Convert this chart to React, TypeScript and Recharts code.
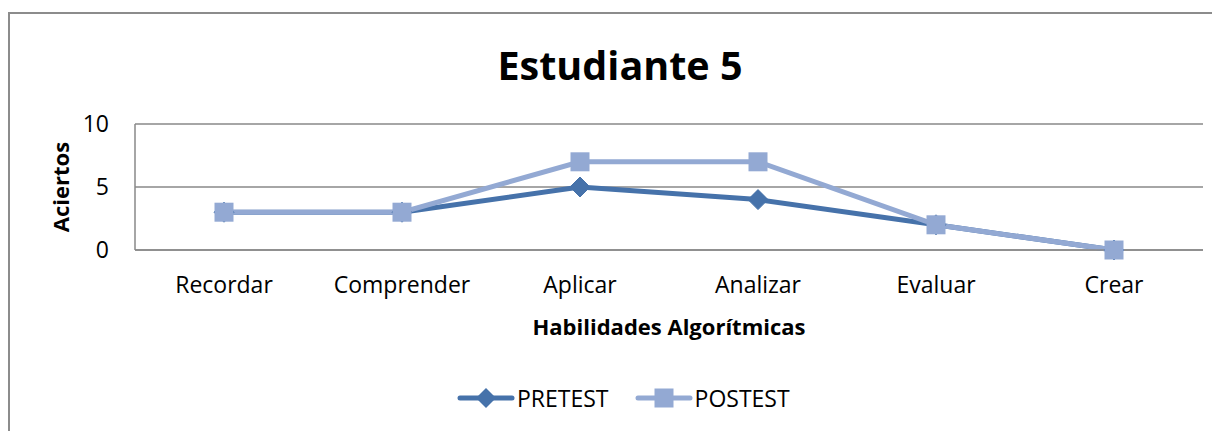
import React from "react";
import { LineChart, Line, XAxis, YAxis, CartesianGrid, Legend } from "recharts";

const categories = ["Recordar", "Comprender", "Aplicar", "Analizar", "Evaluar", "Crear"];
const pretest = [3, 3, 5, 4, 2, 0];
const postest = [3, 3, 7, 7, 2, 0];
const yTicks = [0, 5, 10];

const data = categories.map((c, i) => ({ name: c, PRETEST: pretest[i], POSTEST: postest[i] }));

const PRE_COLOR = "#4672AA";
const POST_COLOR = "#93A9D3";
const FONT = "'Open Sans', 'DejaVu Sans', sans-serif";

const Diamond = (props: any) => {
  const { cx, cy } = props;
  if (cx == null || cy == null) return null;
  const r = 10;
  return (
    <path
      key={`d-${cx}`}
      d={`M${cx},${cy - r}L${cx + r},${cy}L${cx},${cy + r}L${cx - r},${cy}Z`}
      fill={PRE_COLOR}
      stroke={PRE_COLOR}
      strokeWidth={1}
    />
  );
};

const Square = (props: any) => {
  const { cx, cy } = props;
  if (cx == null || cy == null) return null;
  const s = 19;
  return (
    <rect key={`s-${cx}`} x={cx - s / 2} y={cy - s / 2} width={s} height={s} fill={POST_COLOR} />
  );
};

const LegendContent = () => {
  const item = (label: string, color: string, marker: "d" | "s") => (
    <div style={{ display: "flex", alignItems: "center" }}>
      <svg width={58} height={30} style={{ display: "block" }}>
        <line x1={3} y1={15} x2={55} y2={15} stroke={color} strokeWidth={5} strokeLinecap="round" />
        {marker === "d" ? (
          <path d="M29,5L39,15L29,25L19,15Z" fill={color} />
        ) : (
          <rect x={19.5} y={5.5} width={19} height={19} fill={color} />
        )}
      </svg>
      <span style={{ fontSize: 23, color: "#000", marginLeft: 2, lineHeight: "30px" }}>{label}</span>
    </div>
  );
  return (
    <div style={{ display: "flex", height: 30, marginLeft: 447, fontFamily: FONT }}>
      {item("PRETEST", PRE_COLOR, "d")}
      <div style={{ width: 26 }} />
      {item("POSTEST", POST_COLOR, "s")}
    </div>
  );
};

export default function App() {
  return (
    <div
      style={{
        position: "relative",
        width: 1202,
        height: 417,
        marginTop: 4,
        borderTop: "2px solid #8c8c8c",
        borderLeft: "2px solid #8c8c8c",
        fontFamily: FONT,
        background: "#fff",
      }}
    >
      <div
        style={{
          position: "absolute",
          left: 610,
          top: 52,
          transform: "translate(-50%, -50%)",
          fontSize: 39.5,
          fontWeight: 700,
          lineHeight: 1,
          whiteSpace: "nowrap",
          color: "#000",
        }}
      >
        Estudiante 5
      </div>
      <LineChart
        width={1202}
        height={417}
        data={data}
        margin={{ top: 110, right: 9, bottom: 18, left: 0 }}
      >
        <CartesianGrid vertical={false} stroke="#888" strokeWidth={1.5} />
        <XAxis
          dataKey="name"
          height={133}
          padding={{ left: 89, right: 89 }}
          tickLine={false}
          tickSize={0}
          tickMargin={27}
          axisLine={{ stroke: "#888", strokeWidth: 1.5 }}
          tick={{ fontSize: 23, fill: "#000" }}
          interval={0}
          label={{
            content: (p: any) => {
              const vb = p.viewBox || {};
              return (
                <text
                  x={vb.x + vb.width / 2}
                  y={vb.y + 76}
                  textAnchor="middle"
                  dominantBaseline="central"
                  fontSize={22}
                  fontWeight={700}
                  fill="#000"
                >
                  Habilidades Algorítmicas
                </text>
              );
            },
          }}
        />
        <YAxis
          width={125}
          domain={[0, 10]}
          ticks={yTicks}
          tickLine={false}
          tickSize={0}
          tickMargin={26}
          axisLine={{ stroke: "#888", strokeWidth: 1.5 }}
          tick={{ fontSize: 23, fill: "#000" }}
          label={{
            content: (p: any) => {
              const vb = p.viewBox || {};
              const cy = vb.y + vb.height / 2;
              return (
                <text
                  x={50}
                  y={cy}
                  textAnchor="middle"
                  dominantBaseline="central"
                  fontSize={22}
                  fontWeight={700}
                  fill="#000"
                  transform={`rotate(-90, 50, ${cy})`}
                >
                  Aciertos
                </text>
              );
            },
          }}
        />
        <Legend verticalAlign="bottom" height={30} content={<LegendContent />} />
        <Line
          type="linear"
          dataKey="PRETEST"
          stroke={PRE_COLOR}
          strokeWidth={5}
          dot={Diamond}
          activeDot={false}
          isAnimationActive={false}
        />
        <Line
          type="linear"
          dataKey="POSTEST"
          stroke={POST_COLOR}
          strokeWidth={5}
          dot={Square}
          activeDot={false}
          isAnimationActive={false}
        />
      </LineChart>
    </div>
  );
}
